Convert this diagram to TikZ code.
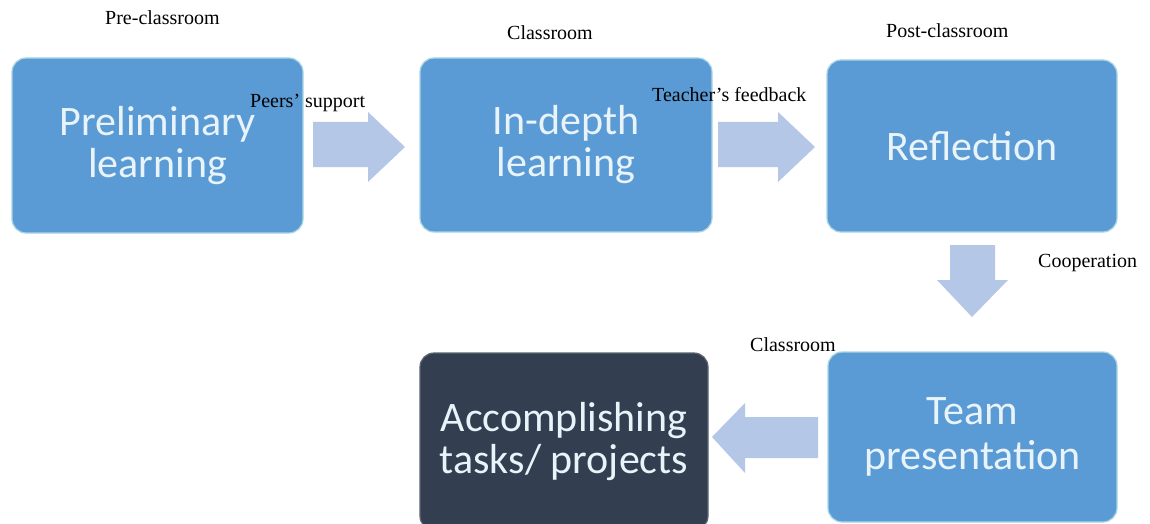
\documentclass[tikz,border=0pt]{standalone}
\usepackage{fontspec}
\setmainfont{Liberation Serif}
\newfontfamily\boxfont{Carlito}
\definecolor{boxblue}{HTML}{5B9BD5}
\definecolor{boxdark}{HTML}{333F50}
\definecolor{boxedge}{HTML}{A9D6E5}
\definecolor{arrowfill}{HTML}{B4C7E7}
\definecolor{boxtext}{HTML}{E8F3FA}
\tikzset{
  stage/.style={rectangle, rounded corners=14pt, fill=boxblue, draw=boxedge, line width=1.2pt,
    text=boxtext, align=center, font=\boxfont\fontsize{42}{42}\selectfont, inner sep=0pt},
  darkstage/.style={stage, fill=boxdark, draw=boxdark!80!white},
  lab/.style={anchor=base west, inner sep=0pt, font=\fontsize{20}{22}\selectfont, text=black},
  blockarrow/.style={fill=arrowfill, draw=none}
}
\begin{document}
\begin{tikzpicture}[x=1pt,y=-1pt]
\useasboundingbox (0,0) rectangle (1150,524);
\clip (0,0) rectangle (1150,524);
\fill[white] (0,0) rectangle (1150,524);
% boxes
\node[stage, minimum width=291pt, minimum height=175pt] (b1) at (157.5,145.5) {Preliminary\\learning};
\node[stage, minimum width=292pt, minimum height=174pt] (b2) at (566,145) {In-depth\\learning};
\node[stage, minimum width=290pt, minimum height=172pt] (b3) at (972,146) {Reflection};
\node[stage, minimum width=289pt, minimum height=170pt, font=\boxfont\fontsize{42}{45}\selectfont] (b4) at (972.5,437) {Team\\presentation};
\node[darkstage, minimum width=288pt, minimum height=177pt] (b5) at (564,441.5) {Accomplishing\\tasks/ projects};
% block arrows
\fill[blockarrow] (313,122) -- (368,122) -- (368,112) -- (405,147) -- (368,182) -- (368,167) -- (313,167) -- cycle;
\fill[blockarrow] (718,122) -- (778,122) -- (778,112) -- (815,147) -- (778,182) -- (778,167) -- (718,167) -- cycle;
\fill[blockarrow] (950,245) -- (995,245) -- (995,280) -- (1008,280) -- (972,317) -- (937,280) -- (950,280) -- cycle;
\fill[blockarrow] (818,417) -- (745,417) -- (745,403) -- (712,437) -- (745,473) -- (745,458) -- (818,458) -- cycle;
% labels
\node[lab] (l1) at (105,25) {Pre-classroom};
\node[lab] (l2) at (507,40) {Classroom};
\node[lab] (l3) at (886,38) {Post-classroom};
\node[lab] (l4) at (250,107) {Peers’ support};
\node[lab] (l5) at (652,102) {Teacher’s feedback};
\node[lab] (l6) at (1038,267) {Cooperation};
\node[lab] (l7) at (750,351) {Classroom};
\end{tikzpicture}
\end{document}
